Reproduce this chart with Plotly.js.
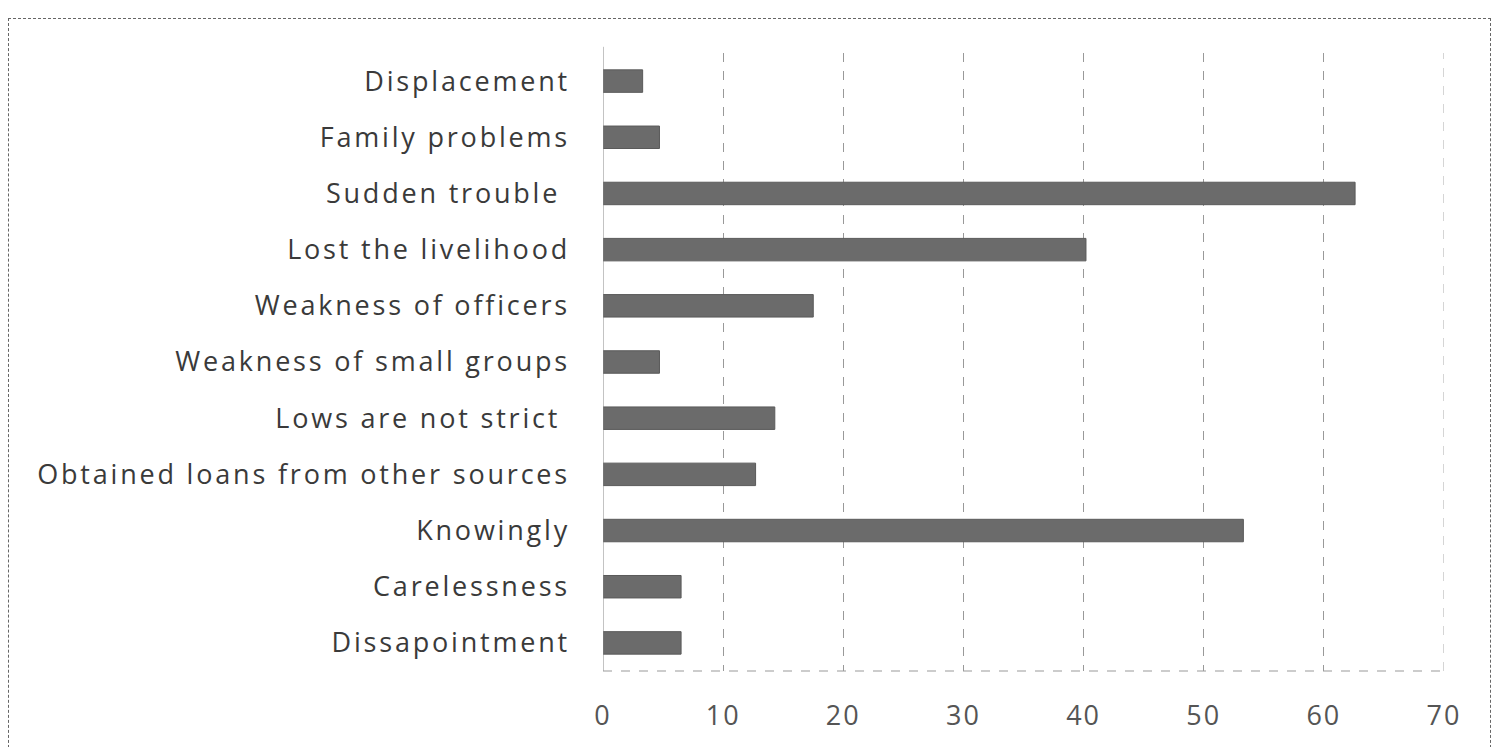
<!DOCTYPE html>
<html><head><meta charset="utf-8">
<script src="https://cdn.plot.ly/plotly-3.0.1.min.js"></script>
<style>
html,body{margin:0;padding:0;background:#fff;}
#frame{position:absolute;left:8px;top:18px;width:1483px;height:745px;border:1px dashed #666;box-sizing:border-box;pointer-events:none;}
#chart{width:1495px;height:747px;}
#chart .ytick text{letter-spacing:2.8px;}
#chart .xtick text{letter-spacing:2px;}
</style></head>
<body>
<div id="chart"></div>
<div id="frame"></div>
<script>
const categories = ["Dissapointment","Carelessness","Knowingly","Obtained loans from other sources","Lows are not strict ","Weakness of small groups","Weakness of officers","Lost the livelihood","Sudden trouble ","Family problems","Displacement"];
const values = [6.5, 6.5, 53.3, 12.7, 14.3, 4.7, 17.5, 40.2, 62.6, 4.7, 3.3];
const xTicks = [0,10,20,30,40,50,60,70];

Plotly.newPlot('chart', [{
  type: 'bar', orientation: 'h',
  y: categories, x: values,
  width: 0.4,
  marker: {color: '#6b6b6b', line: {color: '#5a5a5a', width: 1}},
  hoverinfo: 'none'
}], {
  width: 1495, height: 747,
  margin: {l: 603, r: 51, t: 53, b: 76, pad: 0},
  paper_bgcolor: 'rgba(0,0,0,0)', plot_bgcolor: '#fff',
  showlegend: false,
  font: {family: '"Open Sans", sans-serif', color: '#444'},
  xaxis: {
    range: [0, 70], tickvals: xTicks, ticktext: xTicks.map(String),
    showgrid: true, gridcolor: '#999', griddash: 'dash', gridwidth: 1,
    zeroline: false, showline: false,
    ticks: '', tickfont: {size: 27, color: '#555'}, ticklabelstandoff: 26,
    fixedrange: true
  },
  yaxis: {
    type: 'category', categoryorder: 'array', categoryarray: categories,
    range: [-0.5, 10.5], showgrid: false, zeroline: false,
    showline: false, ticks: '', tickfont: {size: 27, color: '#3a3a3a'},
    ticklabelstandoff: 32, fixedrange: true
  },
  shapes: [
    {type: 'line', xref: 'x', yref: 'paper', x0: 0, x1: 0, y0: 0, y1: 1.01, line: {color: '#888', width: 1}},
    {type: 'line', xref: 'x', yref: 'paper', x0: 0, x1: 70, y0: 0, y1: 0, line: {color: '#999', width: 1, dash: 'dash'}},
    {type: 'line', xref: 'x', yref: 'paper', x0: 70, x1: 70, y0: 0, y1: 1, line: {color: '#aaa', width: 1, dash: 'dash'}}
  ]
}, {displayModeBar: false, staticPlot: true});
</script>
</body></html>
